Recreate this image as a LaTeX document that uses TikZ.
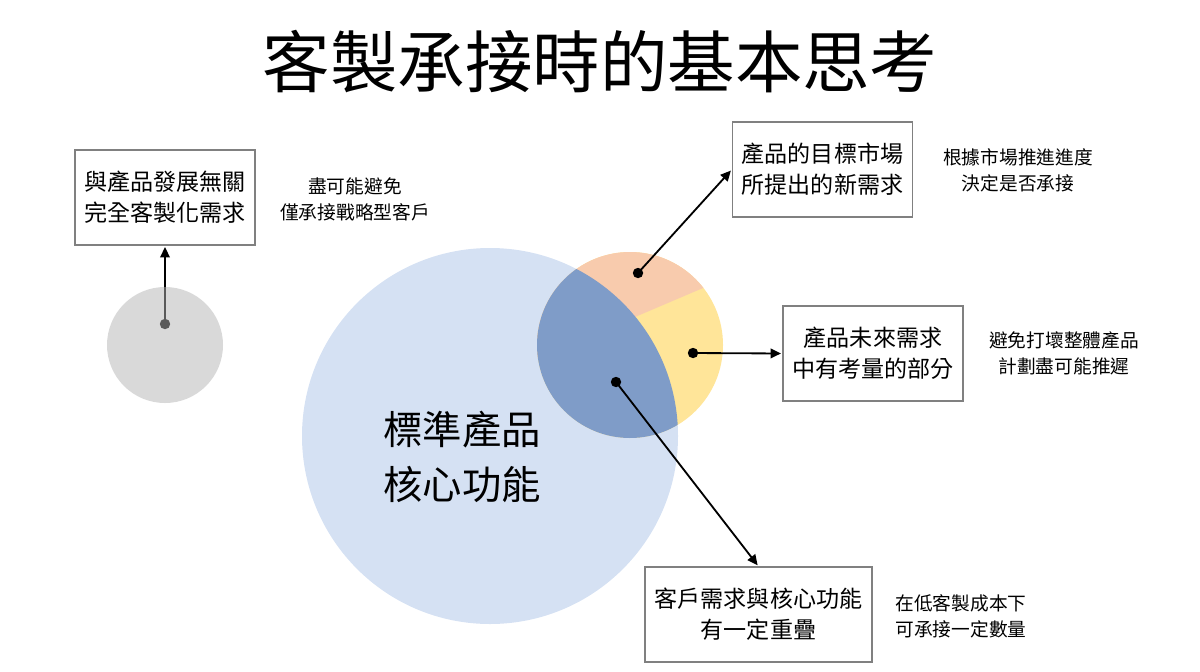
\documentclass[tikz,border=0pt]{standalone}
\usepackage{fontspec}
\setmainfont{Noto Sans CJK TC}
\usetikzlibrary{positioning}
\usetikzlibrary{arrows.meta}
\definecolor{coreblue}{HTML}{D5E1F3}
\definecolor{deepblue}{HTML}{7F9CC8}
\definecolor{peach}{HTML}{F8CBAD}
\definecolor{sand}{HTML}{FFE599}
\definecolor{ash}{HTML}{B4B4B4}

\begin{document}
\begin{tikzpicture}[
x=0.025cm, y=-0.025cm,
box/.style={draw=black!50, line width=0.9pt, fill=white, minimum width=4.5cm, minimum height=2.375cm, align=center, font=\fontsize{16.4pt}{22pt}\selectfont},
note/.style={align=center, font=\fontsize{13.3pt}{18.5pt}\selectfont},
dot/.style={circle, fill=black, minimum size=2.6mm, inner sep=0},
link/.style={-{Triangle[length=2.6mm, width=2.4mm]}, line width=1.3pt, shorten >=1pt}
]
\useasboundingbox (0,0) rectangle (1200,671);
% Title
\node[font=\fontsize{48pt}{50pt}\selectfont] (title) at (600,62) {客製承接時的基本思考};
% Circles
\fill[coreblue] (490,436) circle (188);
\fill[sand] (630,345) circle (93);
\begin{scope}
    \clip (630,345) circle (93);
    \fill[peach] (499,375) -- (771,259) -- (771,200) -- (499,200) -- cycle;
    \clip (490,436) circle (188);
    \fill[deepblue] (630,345) circle (93);
\end{scope}
\node[font=\fontsize{28pt}{39pt}\selectfont, align=center] (core) at (462,457) {標準產品\\核心功能};
% Boxes and notes
\node[box] (custom) at (165,197.5) {與產品發展無關\\完全客製化需求};
\node[box] (market) at (822.5,169.5) {產品的目標市場\\所提出的新需求};
\node[box] (future) at (873,353.5) {產品未來需求\\中有考量的部分};
\node[box, minimum width=5.675cm] (overlap) at (758.5,614.5) {客戶需求與核心功能\\有一定重疊};
\node[note] (custom note) at (355,199) {盡可能避免\\僅承接戰略型客戶};
\node[note] (market note) at (1018,170) {根據市場推進進度\\決定是否承接};
\node[note] (future note) at (1064,353) {避免打壞整體產品\\計劃盡可能推遲};
\node[note] (overlap note) at (961,616) {在低客製成本下\\可承接一定數量};
% Dots and arrows
\node[dot] (d0) at (165,324) {};
\node[dot] (d1) at (638,273) {};
\node[dot] (d2) at (693,353) {};
\node[dot] (d3) at (616,382) {};
\draw[link] (d0.center) -- (custom.south);
\fill[ash, fill opacity=0.5] (165,345) circle (58);
\draw[link] (d1.center) -- (market.west);
\draw[link] (d2.center) -- (future.west);
\draw[link] (d3.center) -- (overlap.north);
\end{tikzpicture}
\end{document}
